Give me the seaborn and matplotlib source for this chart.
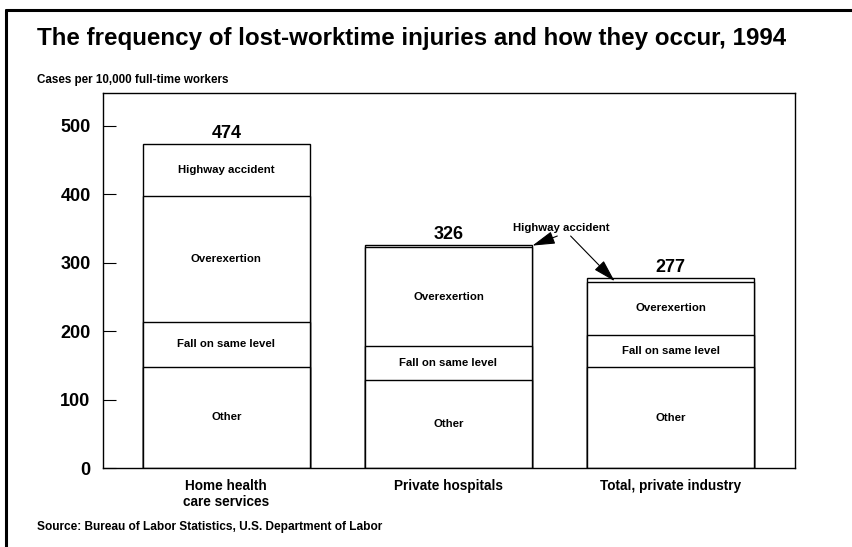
import numpy as np
import pandas as pd
import matplotlib.pyplot as plt
import seaborn as sns
from matplotlib.lines import Line2D

categories = ["Home health\ncare services", "Private hospitals", "Total, private industry"]
segments = ["Other", "Fall on same level", "Overexertion", "Highway accident"]
other = [148, 129, 147]
fall = [66, 49, 48]
overexertion = [184, 145, 77]
highway = [76, 3, 5]
totals = [474, 326, 277]

values = np.array([other, fall, overexertion, highway])
cum = values.cumsum(axis=0)

sns.set_style("white")
plt.rcParams['font.family'] = ['Liberation Sans', 'DejaVu Sans']
plt.rcParams['font.weight'] = 'bold'
plt.rcParams['text.color'] = 'black'
plt.rcParams['xtick.color'] = 'black'
plt.rcParams['ytick.color'] = 'black'

fig = plt.figure(figsize=(8.52, 5.47), dpi=100)
ax = fig.add_axes([0.1209, 0.1444, 0.8122, 0.6856])

# draw cumulative layers from top down so lower ones cover upper ones
for i in range(len(segments) - 1, -1, -1):
    df = pd.DataFrame({'category': categories, 'value': cum[i]})
    sns.barplot(data=df, x='category', y='value', ax=ax, color='white',
                edgecolor='black', linewidth=1.0, width=0.75, saturation=1)

# segment labels (skip the thin highway slices)
for j in range(len(categories)):
    for i, seg in enumerate(segments):
        if values[i, j] < 20:
            continue
        mid = cum[i, j] - values[i, j] / 2
        ax.text(j, mid, seg, ha='center', va='center', fontsize=8.2,
                fontweight='bold')
    ax.text(j, totals[j] + 3, str(totals[j]), ha='center', va='bottom',
            fontsize=13, fontweight='bold')

# annotation for the thin highway slices
ax.text(1.51, 350, "Highway accident", ha='center', va='center',
        fontsize=8.2, fontweight='bold')
arrow = dict(arrowstyle='-|>,head_length=1.4,head_width=0.4',
             color='black', lw=0.8, shrinkA=0, shrinkB=0)
ax.annotate("", xy=(1.378, 325), xytext=(1.49, 339), arrowprops=arrow)
ax.annotate("", xy=(1.748, 273), xytext=(1.55, 339), arrowprops=arrow)

ax.set_xlim(-0.555, 2.56)
ax.set_ylim(0, 548)
ax.set_yticks([0, 100, 200, 300, 400, 500])
ax.set_xlabel("")
ax.set_ylabel("")
ax.tick_params(axis='y', direction='in', length=9, width=0.8, pad=9,
               labelsize=13, left=True)
ax.tick_params(axis='x', length=0, pad=8, labelsize=9.8)
for lab in ax.get_xticklabels() + ax.get_yticklabels():
    lab.set_fontweight('bold')
for sp in ax.spines.values():
    sp.set_color('black')
    sp.set_linewidth(1.0)

fig.text(0.043, 0.9305, "The frequency of lost-worktime injuries and how they occur, 1994",
         ha='left', va='center', fontsize=17.4, fontweight='bold')
fig.text(0.043, 0.854, "Cases per 10,000 full-time workers",
         ha='left', va='center', fontsize=8.4, fontweight='bold')
fig.text(0.043, 0.0366, "Source: Bureau of Labor Statistics, U.S. Department of Labor",
         ha='left', va='center', fontsize=8.6, fontweight='bold')

# outer frame (top and left edges)
fig.add_artist(Line2D([0.007, 1.0], [0.9817, 0.9817], color='black', lw=2.2,
                      transform=fig.transFigure))
fig.add_artist(Line2D([0.007, 0.007], [0.0, 0.9817], color='black', lw=2.2,
                      transform=fig.transFigure))

fig.savefig("out.png", dpi=100)
